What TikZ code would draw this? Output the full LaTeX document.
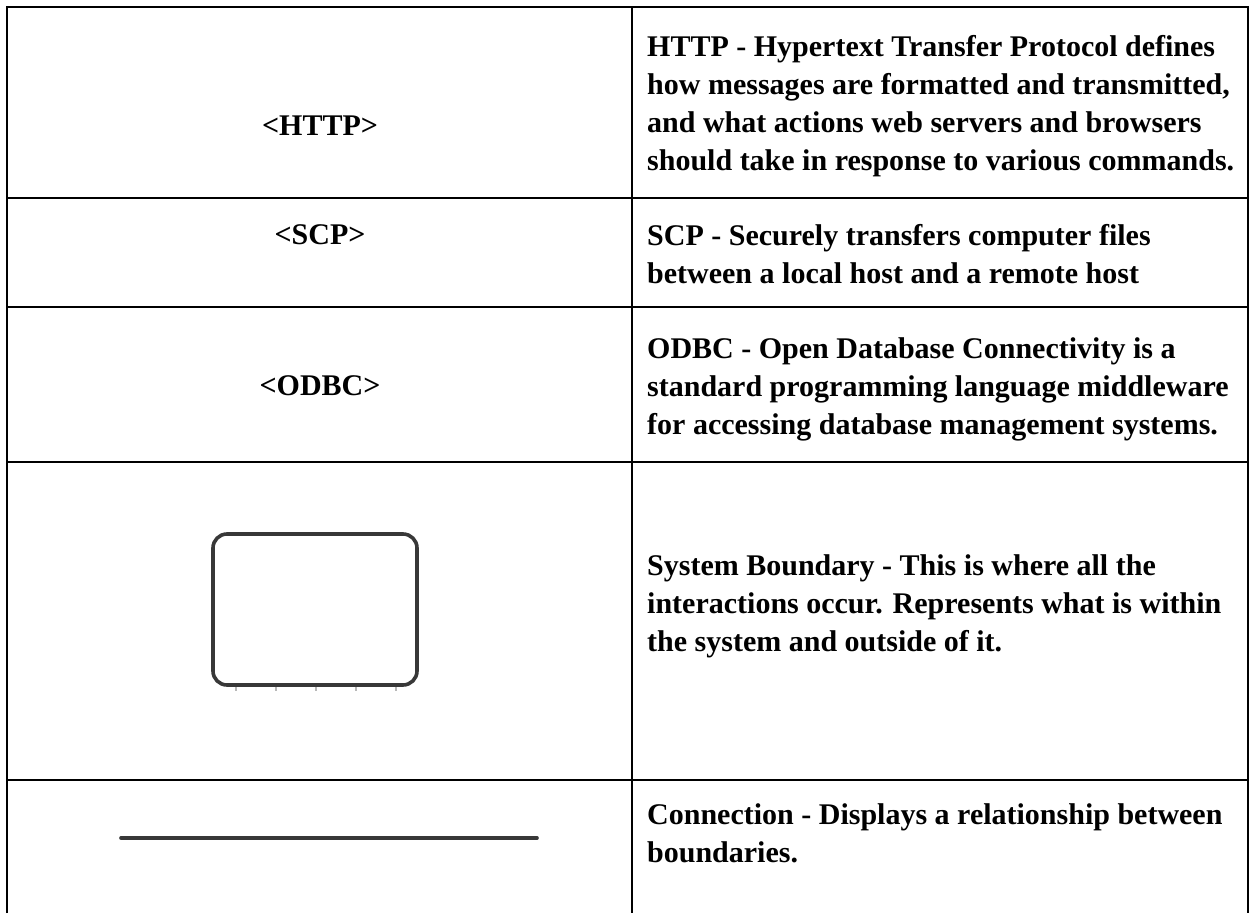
\documentclass[tikz,border=0pt]{standalone}
\usepackage{fontspec}
\setmainfont{Liberation Serif}
\begin{document}
\begin{tikzpicture}[x=1pt,y=-1pt,
  rule/.style={line width=2.3pt, draw=black},
  desc/.style={anchor=north west, inner sep=0pt, align=left,
               font=\fontsize{30}{38}\selectfont\bfseries},
  symname/.style={anchor=base, inner sep=0pt,
               font=\fontsize{30}{38}\selectfont\bfseries},
  sketch/.style={line width=3.6pt, draw=black!78},
  tick/.style={line width=1.2pt, draw=black!28}
]
\useasboundingbox (0,0) rectangle (1250,913);
\fill[white] (0,0) rectangle (1250,913);

% table frame, column divider and row rules
\draw[rule] (7,913) -- (7,7) -- (1248,7) -- (1248,913);
\draw[rule] (632,7) -- (632,913);
\foreach \y in {198,307,462,780}
  \draw[rule] (7,\y) -- (1248,\y);

% left column: symbols
\node[symname] (http)  at (320,135) {<HTTP>};
\node[symname] (scp)   at (320,244) {<SCP>};
\node[symname] (odbc)  at (320,395) {<ODBC>};

\node[sketch, rounded corners=14pt, minimum width=204pt, minimum height=151pt,
      inner sep=0pt] (boundary) at (315,609.5) {};
\foreach \x in {236,276,316,356,396}
  \draw[tick] (\x,687) -- (\x,691);

\coordinate (connA) at (121,838);
\coordinate (connB) at (537,838);
\draw[sketch, line cap=round] (connA) -- (connB);

% right column: descriptions
\node[desc] (httpdesc) at (647,35)
  {HTTP - Hypertext Transfer Protocol defines\\
   how messages are formatted and transmitted,\\
   and what actions web servers and browsers\\
   should take in response to various commands.};
\node[desc] (scpdesc) at (647,224)
  {SCP - Securely transfers computer files\\
   between a local host and a remote host};
\node[desc] (odbcdesc) at (647,337)
  {ODBC - Open Database Connectivity is a\\
   standard programming language middleware\\
   for accessing database management systems.};
\node[desc] (bounddesc) at (647,554)
  {System Boundary - This is where all the\\
   interactions occur. Represents what is within\\
   the system and outside of it.};
\node[desc] (conndesc) at (647,803)
  {Connection - Displays a relationship between\\
   boundaries.};
\end{tikzpicture}
\end{document}
